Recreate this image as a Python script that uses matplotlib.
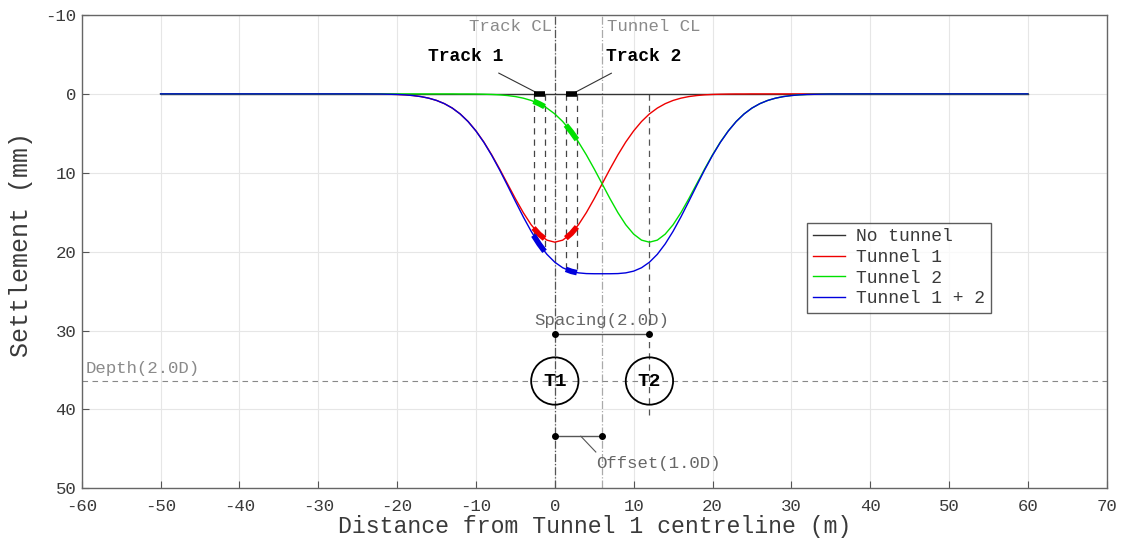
import numpy as np
import matplotlib
matplotlib.use("Agg")
import matplotlib.pyplot as plt
from matplotlib.patches import Circle

plt.rcParams['font.family'] = ['Liberation Mono', 'DejaVu Sans Mono']
plt.rcParams['axes.unicode_minus'] = False

# settlement profiles (mm), x in metres from tunnel 1 centreline
x = [-50, -40, -30, -25, -22, -20, -19, -18, -17, -16, -15, -14, -13, -12, -11,
     -10, -9, -8, -7, -6, -5, -4, -3, -2, -1, 0, 1, 2, 3, 4, 5, 6, 7, 8, 9,
     10, 11, 12, 13, 14, 15, 16, 17, 18, 19, 20, 21, 22, 23, 24, 25, 26, 27,
     28, 29, 30, 31, 32, 35, 40, 50, 60]
no_tunnel = [0.0] * len(x)
tunnel1 = [0.0, 0.0, 0.0, 0.0, 0.02, 0.07, 0.12, 0.21, 0.34, 0.54, 0.83, 1.24, 1.80,
           2.54, 3.50, 4.69, 6.10, 7.73, 9.52, 11.40, 13.28, 15.05, 16.59, 17.78,
           18.54, 18.80, 18.54, 17.78, 16.59, 15.05, 13.28, 11.40, 9.52, 7.73,
           6.10, 4.69, 3.50, 2.54, 1.80, 1.24, 0.83, 0.54, 0.34, 0.21, 0.12, 0.07,
           0.04, 0.02, 0.01, 0.01, 0.0, 0.0, 0.0, 0.0, 0.0, 0.0, 0.0, 0.0, 0.0,
           0.0, 0.0, 0.0]
tunnel2 = [0.0, 0.0, 0.0, 0.0, 0.0, 0.0, 0.0, 0.0, 0.0, 0.0, 0.0, 0.0, 0.0,
           0.01, 0.01, 0.02, 0.04, 0.07, 0.12, 0.21, 0.34, 0.54, 0.83, 1.24,
           1.80, 2.54, 3.50, 4.69, 6.10, 7.73, 9.52, 11.40, 13.28, 15.05, 16.59,
           17.78, 18.54, 18.80, 18.54, 17.78, 16.59, 15.05, 13.28, 11.40, 9.52,
           7.73, 6.10, 4.69, 3.50, 2.54, 1.80, 1.24, 0.83, 0.54, 0.34, 0.21, 0.12,
           0.07, 0.01, 0.0, 0.0, 0.0]
tunnel12 = [0.0, 0.0, 0.0, 0.0, 0.02, 0.07, 0.12, 0.21, 0.34, 0.54, 0.83, 1.24,
            1.80, 2.55, 3.51, 4.71, 6.14, 7.80, 9.64, 11.61, 13.62, 15.59, 17.42,
            19.02, 20.34, 21.34, 22.04, 22.47, 22.69, 22.78, 22.80, 22.80, 22.80,
            22.78, 22.69, 22.47, 22.04, 21.34, 20.34, 19.02, 17.42, 15.59, 13.62,
            11.61, 9.64, 7.80, 6.14, 4.71, 3.51, 2.55, 1.80, 1.24, 0.83, 0.54,
            0.34, 0.21, 0.12, 0.07, 0.01, 0.0, 0.0, 0.0]

# rail positions of each track and the settlement under them
track1_x = [-2.7, -2.0, -1.3]
track1_t1 = [17.0, 17.78, 18.35]
track1_t2 = [0.93, 1.24, 1.61]
track1_t12 = [17.93, 19.02, 19.96]
track2_x = [1.4, 2.1, 2.8]
track2_t1 = [18.29, 17.68, 16.86]
track2_t2 = [3.95, 4.82, 5.80]
track2_t12 = [22.24, 22.50, 22.66]

# geometry
D = 6.0
tunnel_x = [0.0, 12.0]
tunnel_names = ['T1', 'T2']
depth_y = 36.4
track_cl = 0.0
tunnel_cl = 6.0

series_labels = ['No tunnel', 'Tunnel 1', 'Tunnel 2', 'Tunnel 1 + 2']
colors = ['#333333', '#ee0000', '#00e000', '#0000dd']

fig = plt.figure(figsize=(11.23, 5.46), dpi=100)
ax = fig.add_axes([0.0728, 0.1057, 0.9127, 0.8668])

tc = '#3a3a3a'
lc = '#8a8a8a'

# grid
ax.grid(True, color='#e6e6e6', lw=0.8)
ax.set_axisbelow(True)

# centre lines
ax.axvline(track_cl, color='#555555', ls='-.', lw=0.9, zorder=1)
ax.axvline(tunnel_cl, color='#aaaaaa', ls='-.', lw=0.9, zorder=1)
ax.text(track_cl - 0.4, -8.5, 'Track CL', color=lc, fontsize=12.5, ha='right', va='center')
ax.text(tunnel_cl + 0.6, -8.5, 'Tunnel CL', color=lc, fontsize=12.5, ha='left', va='center')

# depth line
ax.axhline(depth_y, color='#888888', ls=(0, (5, 4)), lw=0.8, zorder=1)
ax.text(-59.5, depth_y - 0.6, 'Depth(2.0D)', color=lc, fontsize=12.5, ha='left', va='bottom')

# dashed line from surface down to tunnel 2
ax.plot([tunnel_x[1], tunnel_x[1]], [0, depth_y + 4.3], color='#555555',
        ls=(0, (5, 4)), lw=0.9, zorder=1)

# dashed lines under each rail
for xs, ys in [(track1_x, track1_t12), (track2_x, track2_t12)]:
    for xi, yi in [(xs[0], ys[0]), (xs[-1], ys[-1])]:
        ax.plot([xi, xi], [0, yi], color='#444444', ls=(0, (5, 4)), lw=0.9, zorder=1)

# curves
profiles = [no_tunnel, tunnel1, tunnel2, tunnel12]
for prof, lab, c in zip(profiles, series_labels, colors):
    ax.plot(x, prof, color=c, lw=1.0, label=lab, zorder=3)

# thick bits under the tracks
for xs, a, b, cc in [(track1_x, track1_t1, track1_t2, track1_t12),
                     (track2_x, track2_t1, track2_t2, track2_t12)]:
    ax.plot(xs, [0.0] * len(xs), color='black', lw=4, solid_capstyle='butt', zorder=4)
    ax.plot(xs, a, color=colors[1], lw=4, solid_capstyle='butt', zorder=4)
    ax.plot(xs, b, color=colors[2], lw=4, solid_capstyle='butt', zorder=4)
    ax.plot(xs, cc, color=colors[3], lw=4, solid_capstyle='butt', zorder=4)

# track labels
ax.annotate('Track 1', xy=(-2.2, -0.1), xytext=(-11.3, -4.8), fontsize=13,
            fontweight='bold', ha='center', va='center',
            arrowprops=dict(arrowstyle='-', color='#333333', lw=0.8,
                            shrinkA=9, shrinkB=0))
ax.annotate('Track 2', xy=(2.4, -0.1), xytext=(11.3, -4.8), fontsize=13,
            fontweight='bold', ha='center', va='center',
            arrowprops=dict(arrowstyle='-', color='#333333', lw=0.8,
                            shrinkA=9, shrinkB=0))

# tunnels
for tx, nm in zip(tunnel_x, tunnel_names):
    ax.add_patch(Circle((tx, depth_y), D / 2, fill=False, ec='black', lw=1.3, zorder=5))
    ax.text(tx, depth_y, nm, fontsize=14, fontweight='bold', ha='center',
            va='center', zorder=6)

# spacing dimension
ax.plot(tunnel_x, [30.4, 30.4], color='#555555', lw=1.0, marker='o', ms=4,
        mfc='black', mec='black', zorder=5)
ax.text(6.0, 28.7, 'Spacing(2.0D)', color='#666666', fontsize=12.5,
        ha='center', va='center')

# offset dimension
ax.plot([track_cl, tunnel_cl], [43.4, 43.4], color='#555555', lw=1.0, marker='o',
        ms=4, mfc='black', mec='black', zorder=5)
ax.plot([3.3, 5.2], [43.4, 45.4], color='#555555', lw=0.8)
ax.text(5.2, 46.9, 'Offset(1.0D)', color='#666666', fontsize=12.5,
        ha='left', va='center')

# axes
ax.set_xlim(-60, 70)
ax.set_ylim(50, -10)
ax.set_xticks(np.arange(-60, 71, 10))
ax.set_yticks(np.arange(-10, 51, 10))
ax.tick_params(direction='in', length=5, colors='#555555', labelcolor=tc,
               labelsize=12.5, top=False, right=False)
ax.tick_params(axis='x', pad=7.5)
ax.tick_params(axis='y', pad=4)
for s in ax.spines.values():
    s.set_color('#666666')
    s.set_linewidth(1.0)
ax.set_xlabel('Distance from Tunnel 1 centreline (m)', fontsize=16.7, color=tc, labelpad=1)
ax.set_ylabel('Settlement (mm)', fontsize=18, color=tc)
ax.yaxis.set_label_coords(-0.048, 0.515)

leg = ax.legend(loc='upper left', bbox_to_anchor=(0.708, 0.5605), fontsize=13,
                handlelength=1.8, frameon=True, fancybox=False, borderpad=0.3,
                labelspacing=0.2, handletextpad=0.6, borderaxespad=0)
leg.get_frame().set_edgecolor('#333333')
leg.get_frame().set_linewidth(1.0)
for t in leg.get_texts():
    t.set_color(tc)

fig.savefig('out.png', dpi=100)
